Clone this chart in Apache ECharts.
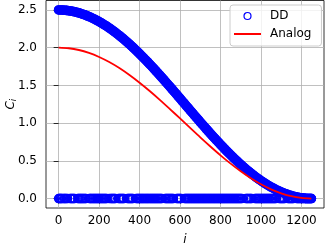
<!DOCTYPE html>
<html>
<head>
<meta charset="utf-8">
<script src="https://cdn.jsdelivr.net/npm/echarts@6/dist/echarts.min.js"></script>
<style>
html,body{margin:0;padding:0;background:#fff;}
#chart{width:325px;height:246px;}
</style>
</head>
<body>
<div id="chart"></div>
<script>
// DD points lying on the curve (index i = 0,10,20,...,1240, then 1249)
const ddCurveIndex = [0,10,20,30,40,50,60,70,80,90,100,110,120,130,140,150,160,170,180,190,200,210,220,230,240,250,260,270,280,290,300,310,320,330,340,350,360,370,380,390,400,410,420,430,440,450,460,470,480,490,500,510,520,530,540,550,560,570,580,590,600,610,620,630,640,650,660,670,680,690,700,710,720,730,740,750,760,770,780,790,800,810,820,830,840,850,860,870,880,890,900,910,920,930,940,950,960,970,980,990,1000,1010,1020,1030,1040,1050,1060,1070,1080,1090,1100,1110,1120,1130,1140,1150,1160,1170,1180,1190,1200,1210,1220,1230,1240,1249];
const ddCurveValues = [
2.500,2.500,2.498,2.496,2.494,2.490,2.486,2.481,2.475,2.468,
2.461,2.452,2.443,2.434,2.423,2.412,2.400,2.387,2.374,2.360,
2.345,2.330,2.313,2.297,2.279,2.261,2.242,2.223,2.203,2.182,
2.161,2.139,2.117,2.094,2.070,2.046,2.022,1.997,1.971,1.945,
1.919,1.892,1.865,1.837,1.810,1.781,1.753,1.724,1.694,1.665,
1.635,1.605,1.575,1.544,1.514,1.483,1.452,1.421,1.390,1.358,
1.327,1.296,1.264,1.233,1.201,1.170,1.139,1.107,1.076,1.045,
1.014,0.983,0.953,0.922,0.892,0.862,0.832,0.803,0.774,0.745,
0.716,0.688,0.660,0.632,0.605,0.579,0.552,0.526,0.501,0.476,
0.452,0.428,0.404,0.381,0.359,0.337,0.316,0.295,0.275,0.256,
0.237,0.219,0.202,0.185,0.169,0.153,0.139,0.125,0.111,0.099,
0.087,0.076,0.065,0.056,0.047,0.039,0.031,0.025,0.019,0.014,
0.010,0.006,0.003,0.001,0.000,0.000];
// DD points equal to zero
const ddZeroIndex = [0,3,7,10,14,18,25,29,33,38,44,56,61,65,70,74,79,95,99,104,108,112,117,121,126,131,135,152,156,160,165,170,174,179,183,188,192,197,201,206,210,215,219,224,228,233,237,250,258,262,267,271,276,280,296,301,305,310,314,319,323,340,345,349,354,358,363,367,383,388,392,397,401,406,410,415,419,424,429,433,438,442,447,452,456,461,465,470,474,479,483,488,492,497,501,506,510,526,531,535,540,544,549,553,558,562,567,583,588,592,597,601,606,622,627,631,636,640,645,649,654,658,663,667,672,676,681,685,690,694,699,703,708,712,717,721,726,730,735,739,744,748,753,757,762,766,771,775,780,784,789,793,798,802,807,811,816,820,825,829,834,838,843,847,852,856,861,865,870,874,879,883,888,892,897,901,906,925,930,934,939,945,949,954,970,975,979,984,988,993,997,1002,1006,1011,1015,1020,1024,1029,1033,1038,1042,1047,1051,1056,1060,1065,1069,1074,1090,1095,1099,1104,1108,1113,1117,1133,1138,1142,1147,1151,1156,1160,1176,1181,1185,1190,1194,1199,1203,1208,1212,1217,1221,1226,1230,1235,1239,1244,1249];
const ddZeroValue = 0;
// Analog curve
const analogIndex = [0,50,100,150,200,250,300,350,400,450,500,550,600,650,700,750,800,850,900,950,1000,1050,1100,1150,1200,1249];
const analogValues = [2.000,1.992,1.969,1.930,1.876,1.809,1.729,1.637,1.535,1.425,1.308,1.186,1.062,0.936,0.811,0.690,0.573,0.463,0.362,0.270,0.190,0.122,0.070,0.031,0.008,0.000];
// Axis ticks
const xTicks = [0,200,400,600,800,1000,1200];
const yTicks = [0,0.5,1.0,1.5,2.0,2.5];
const xRange = [-62.45, 1311.45];
const yRange = [-0.125, 2.625];

const ddCurveData = ddCurveIndex.map((x, k) => [x, ddCurveValues[k]]);
const ddData = ddCurveData.concat(ddZeroIndex.map(x => [x, ddZeroValue]));
const analogData = analogIndex.map((x, k) => [x, analogValues[k]]);

const FONT = 'DejaVu Sans';
const chart = echarts.init(document.getElementById('chart'), null, {renderer: 'canvas'});
chart.setOption({
  animation: false,
  backgroundColor: '#ffffff',
  textStyle: {fontFamily: FONT},
  grid: {left: 46, right: 1, top: 0.5, bottom: 38, containLabel: false, outerBoundsMode: 'none',
         show: true, borderColor: '#000', borderWidth: 0.8, backgroundColor: 'transparent'},
  legend: {
    left: 230, top: 5, orient: 'vertical',
    padding: [4, 10, 5, 4], itemGap: 4,
    itemWidth: 27, itemHeight: 7,
    backgroundColor: 'rgba(255,255,255,0.8)', borderColor: '#cccccc', borderWidth: 1, borderRadius: 3,
    textStyle: {fontFamily: FONT, fontSize: 12, color: '#000', lineHeight: 14, padding: [0, 0, 0, 4]},
    data: [
      {name: 'DD', icon: 'circle', itemStyle: {color: 'rgba(0,0,0,0)', borderColor: '#0000ff', borderWidth: 1.2}},
      {name: 'Analog', icon: 'path://M0,0L27,0L27,2L0,2Z'}
    ]
  },
  xAxis: {
    type: 'value', min: xRange[0], max: xRange[1],
    name: 'i', nameLocation: 'middle', nameGap: 26, nameMoveOverlap: false,
    nameTextStyle: {fontFamily: FONT, fontStyle: 'italic', fontSize: 12, color: '#000'},
    axisLine: {show: false},
    axisTick: {show: true, length: 5, lineStyle: {color: '#000', width: 0.8}, customValues: xTicks},
    axisLabel: {customValues: xTicks, margin: 7, fontSize: 12, fontFamily: FONT, color: '#000', formatter: v => String(v)},
    splitLine: {show: true, lineStyle: {color: '#b0b0b0', width: 0.8}}
  },
  yAxis: {
    type: 'value', min: yRange[0], max: yRange[1],
    name: '{c|C}{s|i}', nameLocation: 'middle', nameGap: 28, nameRotate: 90, nameMoveOverlap: false,
    nameTextStyle: {
      fontFamily: FONT, color: '#000',
      rich: {
        c: {fontFamily: FONT, fontStyle: 'italic', fontSize: 12, color: '#000'},
        s: {fontFamily: FONT, fontStyle: 'italic', fontSize: 8.5, color: '#000', padding: [6, 0, 0, 0]}
      }
    },
    axisLine: {show: false},
    axisTick: {show: true, length: 5, lineStyle: {color: '#000', width: 0.8}, customValues: yTicks},
    axisLabel: {customValues: yTicks, margin: 9, fontSize: 12, fontFamily: FONT, color: '#000', formatter: v => v.toFixed(1)},
    splitLine: {show: true, lineStyle: {color: '#b0b0b0', width: 0.8}}
  },
  series: [
    {
      // dense overlap of DD markers along the curve forms a solid band
      name: 'DD band', type: 'line', data: ddCurveData, silent: true,
      showSymbol: false, symbol: 'none',
      lineStyle: {color: '#0000ff', width: 9.6, cap: 'round', join: 'round'},
      emphasis: {disabled: true}, z: 1
    },
    {
      name: 'DD', type: 'scatter', data: ddData,
      symbol: 'circle', symbolSize: 8.3,
      itemStyle: {color: 'rgba(0,0,0,0)', borderColor: '#0000ff', borderWidth: 1.3, opacity: 1},
      emphasis: {disabled: true}, z: 2
    },
    {
      name: 'Analog', type: 'line', data: analogData,
      showSymbol: false, symbol: 'none', smooth: 0.3,
      lineStyle: {color: '#ff0000', width: 1.8},
      itemStyle: {color: '#ff0000'},
      emphasis: {disabled: true}, z: 3
    }
  ]
});
</script>
</body>
</html>
